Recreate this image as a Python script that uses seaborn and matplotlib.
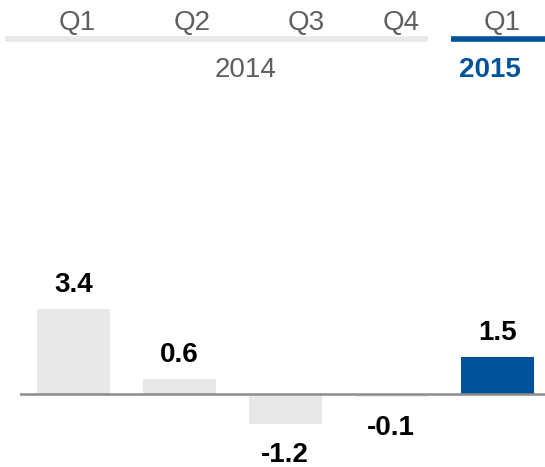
import matplotlib
matplotlib.use("Agg")
import matplotlib.pyplot as plt
from matplotlib.lines import Line2D
import seaborn as sns
import pandas as pd

# Quarterly growth, %
periods = ["2014 Q1", "2014 Q2", "2014 Q3", "2014 Q4", "2015 Q1"]
quarters = ["Q1", "Q2", "Q3", "Q4", "Q1"]
years = ["2014", "2015"]
values = [3.4, 0.6, -1.2, -0.1, 1.5]

GREY_BAR = "#e8e8e8"
BLUE = "#00529b"
TEXT_GREY = "#5f5f5f"
bar_colors = [GREY_BAR, GREY_BAR, GREY_BAR, GREY_BAR, BLUE]

sns.set_theme(style="white")
plt.rcParams["font.family"] = ["Liberation Sans", "DejaVu Sans"]

W, H = 545, 467
fig = plt.figure(figsize=(W / 100, H / 100), dpi=100)
ax = fig.add_axes([20 / W, 0, 525 / W, 1])

df = pd.DataFrame({"period": periods, "value": values})
sns.barplot(data=df, x="period", y="value", hue="period",
            palette=dict(zip(periods, bar_colors)), width=0.69,
            legend=False, ax=ax, saturation=1, linewidth=0)

ax.set_xlim(-0.503, 4.45)
ax.set_ylim(-(H - 394) / 25, 394 / 25)
ax.axhline(0, color="#8c8c8c", lw=1.8, zorder=3)
ax.axis("off")

# value labels
for i, v in enumerate(values):
    off = 12.2 if v >= 0 else -27.7
    ax.annotate(f"{v:.1f}", xy=(i, v), xytext=(0, off), textcoords="offset points",
                ha="center", va="baseline", fontsize=20, fontweight="bold",
                color="black")

# header: quarters and years
def fx(px):
    return px / W

def fy(py):
    return 1 - py / H

q_x = [77.5, 192.5, 306.5, 401, 502]
for q, x in zip(quarters, q_x):
    fig.text(fx(x), fy(30), q, ha="center", va="baseline", fontsize=20,
             color=TEXT_GREY)

fig.add_artist(Line2D([fx(5), fx(428)], [fy(39), fy(39)], transform=fig.transFigure,
                      color=GREY_BAR, lw=4, solid_capstyle="butt"))
fig.add_artist(Line2D([fx(451), fx(545)], [fy(39), fy(39)], transform=fig.transFigure,
                      color=BLUE, lw=4, solid_capstyle="butt"))

fig.text(fx(246), fy(77), years[0], ha="center", va="baseline", fontsize=20,
         color=TEXT_GREY)
fig.text(fx(489.5), fy(77), years[1], ha="center", va="baseline", fontsize=20,
         fontweight="bold", color=BLUE)

fig.savefig("out.png", dpi=100)
